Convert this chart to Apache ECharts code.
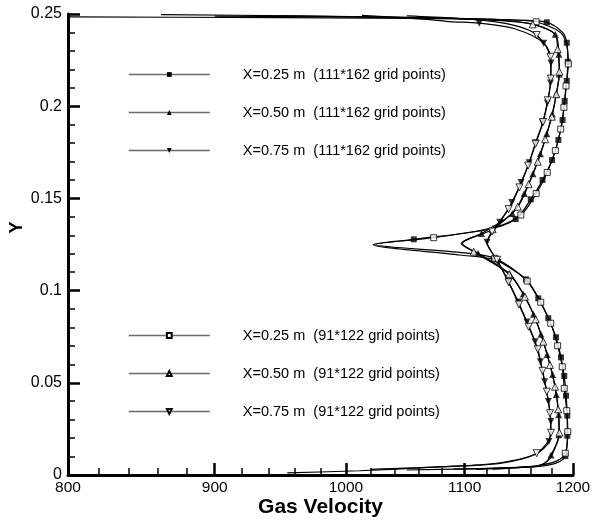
<!DOCTYPE html>
<html>
<head>
<meta charset="utf-8">
<script src="https://cdn.jsdelivr.net/npm/echarts@6/dist/echarts.min.js"></script>
<style>html,body{margin:0;padding:0;background:#fff;}#c{width:593px;height:522px;}</style>
</head>
<body>
<div id="c"></div>
<script>
// ---------- tick values ----------
const xTickValues = [800, 900, 1000, 1100, 1200];
const xMinorTickValues = [820, 840, 860, 880, 920, 940, 960, 980, 1020, 1040, 1060, 1080, 1120, 1140, 1160, 1180];

// ---------- series names ----------
const names = [
  'X=0.25 m  (111*162 grid points)',
  'X=0.50 m  (111*162 grid points)',
  'X=0.75 m  (111*162 grid points)',
  'X=0.25 m  (91*122 grid points)',
  'X=0.50 m  (91*122 grid points)',
  'X=0.75 m  (91*122 grid points)'
];

// ---------- X=0.25 m, fine grid (filled squares) ----------
const A_markY = [0.2455, 0.2344, 0.2241, 0.2137, 0.2028, 0.1925, 0.1817, 0.1708, 0.1600, 0.1495, 0.1388, 0.1278, 0.1169, 0.1061, 0.0958, 0.0850, 0.0747, 0.0638, 0.0537, 0.0430, 0.0322, 0.0213, 0.0103];
const A_markV = [1175, 1194, 1195, 1194, 1192, 1190, 1186, 1180, 1171, 1160, 1146, 1056, 1126, 1155.5, 1167, 1176.4, 1183.7, 1188.5, 1191.6, 1193.3, 1194.5, 1194.5, 1192.6];
const A_lineY = [0.2485, 0.2480, 0.2474, 0.2466, 0.2400, 0.1330, 0.1250, 0.1193, 0.1115, 0.0070, 0.0050, 0.0038, 0.0030];
const A_lineV = [780, 950, 1100, 1150, 1190, 1120, 1022, 1096, 1143, 1186, 1172, 1140, 1110];

// ---------- X=0.50 m, fine grid (filled up triangles) ----------
const B_markY = [0.2390, 0.2282, 0.2174, 0.2066, 0.1958, 0.1850, 0.1742, 0.1634, 0.1526, 0.1418, 0.1310, 0.1202, 0.1090, 0.0981, 0.0872, 0.0763, 0.0654, 0.0545, 0.0436, 0.0327, 0.0218, 0.0108];
const B_markV = [1183, 1186.5, 1186.8, 1184, 1180.2, 1175, 1169, 1162, 1154, 1143, 1115, 1112, 1140.7, 1153, 1162.5, 1169.5, 1175.3, 1180.5, 1184, 1186.3, 1186.5, 1179];
const B_lineY = [0.2497, 0.2490, 0.2478, 0.2462, 0.2444, 0.1255, 0.0063, 0.0045, 0.0033, 0.0027];
const B_lineV = [862, 960, 1080, 1140, 1162, 1097, 1173, 1164, 1100, 1050];

// ---------- X=0.75 m, fine grid (filled down triangles) ----------
const C_markY = [0.2450, 0.2342, 0.2234, 0.2126, 0.2018, 0.1910, 0.1802, 0.1694, 0.1586, 0.1478, 0.1370, 0.1262, 0.1154, 0.1046, 0.0938, 0.0830, 0.0722, 0.0614, 0.0506, 0.0398, 0.0290, 0.0182];
const C_markV = [1113, 1172, 1179, 1178.5, 1175.5, 1171, 1164.5, 1158.5, 1151, 1142.5, 1131.5, 1120, 1130, 1139.5, 1148.5, 1156.5, 1164, 1169, 1173, 1176.5, 1178.8, 1177];
const C_lineY = [0.2493, 0.2470, 0.2459, 0.2420, 0.1300, 0.1211, 0.0114, 0.0063, 0.0042, 0.0023, 0.0012];
const C_lineV = [1013, 1070, 1087, 1145, 1123, 1124, 1165, 1131.6, 1072.7, 1011, 954];

// ---------- X=0.25 m, coarse grid (open squares) ----------
const D_markY = [0.2458, 0.2229, 0.2110, 0.1994, 0.1876, 0.1759, 0.1641, 0.1526, 0.1410, 0.1287, 0.1175, 0.1052, 0.0937, 0.0823, 0.0701, 0.0587, 0.0470, 0.0349, 0.0235, 0.0118];
const D_markV = [1165, 1195.5, 1193.3, 1191.3, 1188.2, 1183.1, 1175.4, 1165, 1150.8, 1073, 1127, 1156.7, 1169.3, 1178.7, 1185.3, 1189.7, 1191.6, 1194, 1195, 1192.6];
const D_lineY = [0.2488, 0.2482, 0.2474, 0.2466, 0.2400, 0.2330, 0.1345, 0.1250, 0.1205, 0.0075, 0.0050, 0.0032];
const D_lineV = [900, 1040, 1110, 1150, 1188, 1194, 1128, 1024, 1100, 1184, 1165, 1125];

// ---------- X=0.50 m, coarse grid (open up triangles) ----------
const E_markY = [0.2444, 0.2309, 0.2187, 0.2065, 0.1943, 0.1821, 0.1699, 0.1577, 0.1455, 0.1333, 0.1211, 0.1089, 0.0967, 0.0844, 0.0723, 0.0597, 0.0479, 0.0356, 0.0230];
const E_markV = [1161.8, 1185.3, 1187, 1184, 1179.8, 1173.5, 1166.5, 1158, 1148, 1125, 1108, 1140, 1154.6, 1164.6, 1171.8, 1178, 1182.8, 1185.8, 1187];
const E_lineY = [0.2490, 0.2480, 0.2468, 0.2390, 0.1255, 0.0110, 0.0065, 0.0045, 0.0032];
const E_lineV = [950, 1060, 1125, 1183, 1098, 1180, 1173, 1160, 1090];

// ---------- X=0.75 m, coarse grid (open down triangles) ----------
const F_markY = [0.2386, 0.2268, 0.2150, 0.2032, 0.1914, 0.1796, 0.1678, 0.1560, 0.1442, 0.1320, 0.1167, 0.1046, 0.0925, 0.0804, 0.0682, 0.0565, 0.0452, 0.0335, 0.0229, 0.0118];
const F_markV = [1165.5, 1178.5, 1178.8, 1176, 1171.5, 1164.5, 1157.5, 1149.5, 1139.5, 1124.5, 1129, 1139.5, 1149, 1158, 1166.5, 1171, 1175, 1178, 1179, 1165.5];
const F_lineY = [0.2490, 0.2478, 0.2460, 0.2430, 0.1260, 0.0065, 0.0045, 0.0030];
const F_lineV = [1050, 1090, 1125, 1150, 1120, 1130, 1080, 1020];

// ---------- build ----------
function pairs(ys, vs) { return ys.map((y, i) => [vs[i], y]); }
function lineData(ly, lv, my, mv) {
  const pts = pairs(ly, lv).concat(pairs(my, mv));
  pts.sort((a, b) => b[1] - a[1]);
  return pts;
}
const curves = [
  {ly: A_lineY, lv: A_lineV, my: A_markY, mv: A_markV, sym: 'rect', rot: 0, hollow: false},
  {ly: B_lineY, lv: B_lineV, my: B_markY, mv: B_markV, sym: 'triangle', rot: 0, hollow: false},
  {ly: C_lineY, lv: C_lineV, my: C_markY, mv: C_markV, sym: 'triangle', rot: 180, hollow: false},
  {ly: D_lineY, lv: D_lineV, my: D_markY, mv: D_markV, sym: 'rect', rot: 0, hollow: true},
  {ly: E_lineY, lv: E_lineV, my: E_markY, mv: E_markV, sym: 'triangle', rot: 0, hollow: true},
  {ly: F_lineY, lv: F_lineV, my: F_markY, mv: F_markV, sym: 'triangle', rot: 180, hollow: true}
];

const FONT = "'Liberation Sans', Arial, sans-serif";
const series = [];
curves.forEach((c, i) => {
  series.push({
    name: names[i],
    type: 'line',
    data: lineData(c.ly, c.lv, c.my, c.mv),
    smooth: 0.3,
    showSymbol: false,
    symbol: c.hollow ? 'empty' + (c.sym === 'rect' ? 'Rect' : 'Triangle') : c.sym,
    symbolRotate: c.rot,
    lineStyle: {color: '#000', width: 1.2},
    itemStyle: {color: '#000'},
    z: 2,
    silent: true
  });
});
curves.forEach((c, i) => {
  series.push({
    name: names[i] + ' markers',
    type: 'scatter',
    data: pairs(c.my, c.mv),
    symbol: c.sym,
    symbolRotate: c.rot,
    symbolSize: c.sym === 'rect' ? 6 : 7,
    itemStyle: c.hollow ? {color: '#fff', borderColor: '#000', borderWidth: 1} : {color: '#000'},
    z: 3,
    silent: true
  });
});

const legendBase = {
  orient: 'vertical',
  left: 123,
  itemWidth: 81,
  itemHeight: 6,
  itemGap: 23,
  selectedMode: false,
  lineStyle: {color: '#6a6a6a', width: 1.6},
  textStyle: {fontSize: 14.5, fontFamily: FONT, color: '#000', padding: [0, 0, 0, 28]}
};

const chart = echarts.init(document.getElementById('c'), null, {renderer: 'canvas'});
chart.setOption({
  animation: false,
  backgroundColor: '#fff',
  textStyle: {fontFamily: FONT},
  grid: {left: 68, right: 20, top: 14, bottom: 47, containLabel: false, outerBoundsMode: 'none'},
  legend: [
    Object.assign({}, legendBase, {top: 62, data: names.slice(0, 3)}),
    Object.assign({}, legendBase, {top: 323, data: names.slice(3, 6)})
  ],
  xAxis: [
    {
      type: 'log', logBase: 10, min: 800, max: 1200,
      axisLine: {show: true, lineStyle: {color: '#000', width: 3}},
      axisTick: {show: true, inside: true, length: 12, lineStyle: {color: '#000', width: 2.5}, customValues: xTickValues},
      axisLabel: {show: true, customValues: xTickValues, fontSize: 15.5, color: '#000', margin: 5, fontFamily: FONT,
                  formatter: v => String(Math.round(v))},
      splitLine: {show: false},
      minorTick: {show: false},
      name: 'Gas Velocity', nameLocation: 'middle', nameGap: 22, nameMoveOverlap: false,
      nameTextStyle: {fontSize: 21, fontWeight: 'bold', color: '#000', fontFamily: FONT}
    },
    {
      type: 'log', logBase: 10, min: 800, max: 1200, gridIndex: 0, position: 'bottom',
      axisLine: {show: false},
      axisTick: {show: true, inside: true, length: 7, lineStyle: {color: '#000', width: 1.5}, customValues: xMinorTickValues},
      axisLabel: {show: false},
      splitLine: {show: false}
    }
  ],
  yAxis: {
    type: 'value', min: 0, max: 0.25, interval: 0.05,
    axisLine: {show: true, lineStyle: {color: '#000', width: 3}},
    axisTick: {show: true, inside: true, length: 12, lineStyle: {color: '#000', width: 2.5}},
    minorTick: {show: true, splitNumber: 5, length: 7, lineStyle: {color: '#000', width: 1.5}},
    axisLabel: {fontSize: 16, color: '#000', margin: 6, fontFamily: FONT},
    splitLine: {show: false},
    name: 'Y', nameLocation: 'middle', nameGap: 42, nameMoveOverlap: false,
    nameTextStyle: {fontSize: 18, fontWeight: 'bold', color: '#000', fontFamily: FONT, padding: [0, 0, 0, 34]}
  },
  series: series
});
</script>
</body>
</html>
